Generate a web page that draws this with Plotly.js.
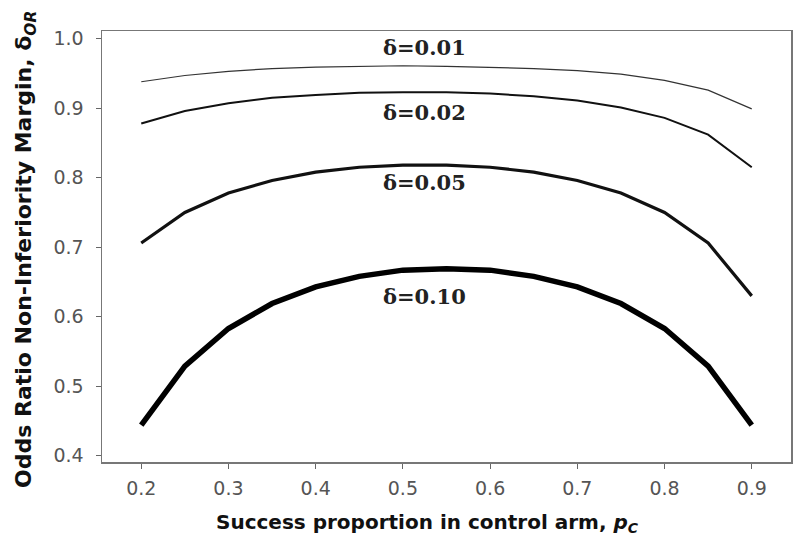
<!DOCTYPE html>
<html>
<head>
<meta charset="utf-8">
<script src="https://cdn.plot.ly/plotly-3.0.1.min.js"></script>
<style>body{margin:0;background:#fff}#chart{width:800px;height:545px}</style>
</head>
<body>
<div id="chart"></div>
<script>
var pC = [0.2,0.25,0.3,0.35,0.4,0.45,0.5,0.55,0.6,0.65,0.7,0.75,0.8,0.85,0.9];
var d001 = [0.938,0.947,0.953,0.957,0.959,0.960,0.961,0.960,0.959,0.957,0.954,0.949,0.940,0.926,0.899];
var d002 = [0.878,0.896,0.907,0.915,0.919,0.922,0.923,0.923,0.921,0.917,0.911,0.901,0.886,0.862,0.815];
var d005 = [0.706,0.750,0.778,0.796,0.808,0.815,0.818,0.818,0.815,0.808,0.796,0.778,0.750,0.706,0.630];
var d010 = [0.444,0.529,0.583,0.619,0.643,0.658,0.667,0.669,0.667,0.658,0.643,0.619,0.583,0.529,0.444];
var seriesNames = ["δ=0.01","δ=0.02","δ=0.05","δ=0.10"];
var labelX = [0.525,0.525,0.525,0.525];
var labelY = [0.987,0.894,0.793,0.629];
var xTicks = [0.2,0.3,0.4,0.5,0.6,0.7,0.8,0.9];
var yTicks = [0.4,0.5,0.6,0.7,0.8,0.9,1.0];
var xTitle = 'Success proportion in control arm, <i>p<sub>C</sub></i>';
var yTitle = 'Odds Ratio Non-Inferiority Margin, δ<sub><i>OR</i></sub>';

var allY = [d001,d002,d005,d010];
var widths = [1.2,2,3.2,5.5];
var colors = ["#333","#111","#111","#000"];
var traces = allY.map(function(y,i){
  return {x:pC, y:y, type:'scatter', mode:'lines', name:seriesNames[i],
    line:{color:colors[i], width:widths[i]}, hoverinfo:'skip'};
});
var annotations = seriesNames.map(function(t,i){
  return {x:labelX[i], y:labelY[i], xref:'x', yref:'y', text:'<b>'+t+'</b>', showarrow:false,
    font:{family:'DejaVu Serif', size:21, color:'#222'}};
});
annotations.push({x:0.473, y:0, xref:'paper', yref:'paper', yanchor:'middle', xanchor:'center', yshift:-61,
  text:'<b>'+xTitle+'</b>', showarrow:false, font:{family:'DejaVu Sans', size:20, color:'#111'}});
annotations.push({x:0, y:0.492, xref:'paper', yref:'paper', xanchor:'center', yanchor:'middle', xshift:-76,
  textangle:-90, text:'<b>'+yTitle+'</b>', showarrow:false, font:{family:'DejaVu Sans', size:22, color:'#111'}});
var layout = {
  width:800, height:545,
  margin:{l:102, r:9, t:31, b:83},
  paper_bgcolor:'#fff', plot_bgcolor:'#fff',
  showlegend:false,
  xaxis:{range:[0.155,0.945], tickvals:xTicks, ticktext:xTicks.map(function(v){return v.toFixed(1);}),
    ticks:'outside', ticklen:5, tickcolor:'#666', showline:true, linecolor:'#777', linewidth:1.5, mirror:true,
    showgrid:false, zeroline:false, ticklabelstandoff:4,
    tickfont:{family:'DejaVu Sans', size:19, color:'#555'}},
  yaxis:{range:[0.391,1.011], tickvals:yTicks, ticktext:yTicks.map(function(v){return v.toFixed(1);}),
    ticks:'outside', ticklen:5, tickcolor:'#666', showline:true, linecolor:'#777', linewidth:1.5, mirror:true,
    showgrid:false, zeroline:false, ticklabelstandoff:8,
    tickfont:{family:'DejaVu Sans', size:19, color:'#555'}},
  annotations:annotations
};
Plotly.newPlot('chart', traces, layout, {displayModeBar:false, staticPlot:true});
</script>
</body>
</html>
